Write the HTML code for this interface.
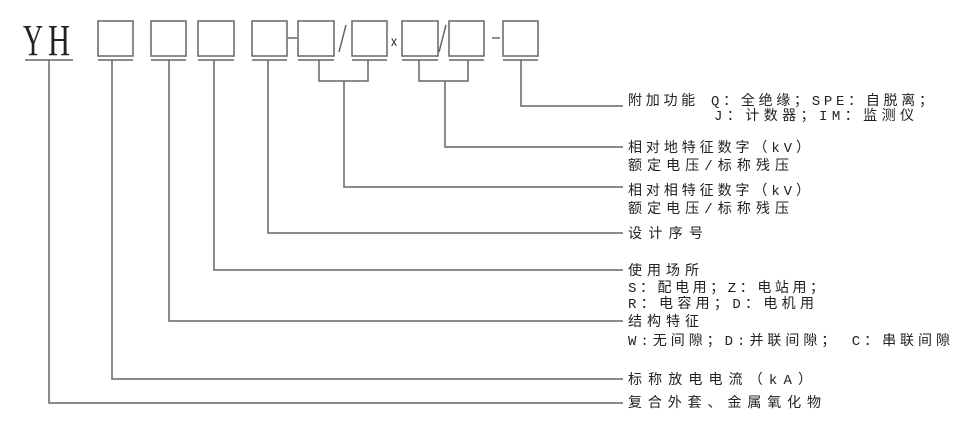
<!DOCTYPE html>
<html><head><meta charset="utf-8"><style>
html,body{margin:0;padding:0;background:#fff;}
svg{display:block;}
text{font-family:"Liberation Mono","Noto Sans CJK SC",monospace;font-size:14px;fill:#222;}
</style></head><body>
<svg width="960" height="426" viewBox="0 0 960 426" xmlns="http://www.w3.org/2000/svg">
<g fill="none" stroke="#666" stroke-width="1.5">
<rect x="98" y="21" width="35" height="35"/>
<rect x="151" y="21" width="35" height="35"/>
<rect x="198" y="21" width="36" height="35"/>
<rect x="252" y="21" width="35" height="35"/>
<rect x="298" y="21" width="36" height="35"/>
<rect x="352" y="21" width="35" height="35"/>
<rect x="402" y="21" width="36" height="35"/>
<rect x="449" y="21" width="35" height="35"/>
<rect x="503" y="21" width="35" height="35"/>
<line x1="288" y1="38" x2="297" y2="38"/>
<line x1="492" y1="38" x2="500" y2="38"/>
<line x1="339" y1="52" x2="346" y2="25"/>
<line x1="439" y1="52" x2="446" y2="25"/>
<line x1="25" y1="60" x2="73" y2="60"/>
<line x1="98" y1="60" x2="133" y2="60"/>
<line x1="151" y1="60" x2="186" y2="60"/>
<line x1="198" y1="60" x2="234" y2="60"/>
<line x1="252" y1="60" x2="287" y2="60"/>
<line x1="298" y1="60" x2="334" y2="60"/>
<line x1="352" y1="60" x2="387" y2="60"/>
<line x1="402" y1="60" x2="438" y2="60"/>
<line x1="449" y1="60" x2="484" y2="60"/>
<line x1="503" y1="60" x2="538" y2="60"/>
<polyline points="319,60 319,81 368,81 368,60"/>
<polyline points="419,60 419,81 468,81 468,60"/>
<polyline points="49,60 49,403 623,403"/>
<polyline points="112,60 112,379 623,379"/>
<polyline points="169,60 169,321 623,321"/>
<polyline points="214,60 214,270 623,270"/>
<polyline points="268,60 268,233 623,233"/>
<polyline points="344,81 344,187 623,187"/>
<polyline points="445,81 445,147 623,147"/>
<polyline points="521,60 521,106 623,106"/>
</g>
<text x="23" y="55" style="font-family:'Liberation Serif',serif;font-size:44px" textLength="20" lengthAdjust="spacingAndGlyphs">Y</text>
<text x="48" y="55" style="font-family:'Liberation Serif',serif;font-size:44px" textLength="22" lengthAdjust="spacingAndGlyphs">H</text>
<text x="391" y="46" style="font-family:'Liberation Sans',sans-serif;font-size:14px" textLength="6" lengthAdjust="spacingAndGlyphs">x</text>
<text x="628" y="105" textLength="305" lengthAdjust="spacing">附加功能 Q：全绝缘；SPE：自脱离；</text>
<text x="714" y="120" textLength="200" lengthAdjust="spacing">J：计数器；IM：监测仪</text>
<text x="628" y="152" textLength="182" lengthAdjust="spacing">相对地特征数字（kV）</text>
<text x="628" y="170" textLength="161" lengthAdjust="spacing">额定电压/标称残压</text>
<text x="628" y="195" textLength="182" lengthAdjust="spacing">相对相特征数字（kV）</text>
<text x="628" y="213" textLength="161" lengthAdjust="spacing">额定电压/标称残压</text>
<text x="628" y="238" textLength="75" lengthAdjust="spacing">设计序号</text>
<text x="628" y="275" textLength="71" lengthAdjust="spacing">使用场所</text>
<text x="628" y="292" textLength="196" lengthAdjust="spacing">S：配电用；Z：电站用；</text>
<text x="628" y="308" textLength="186" lengthAdjust="spacing">R：电容用；D：电机用</text>
<text x="628" y="326" textLength="71" lengthAdjust="spacing">结构特征</text>
<text x="628" y="345" textLength="322" lengthAdjust="spacing">W:无间隙；D:并联间隙； C：串联间隙</text>
<text x="628" y="384" textLength="184" lengthAdjust="spacing">标称放电电流（kA）</text>
<text x="628" y="407" textLength="193" lengthAdjust="spacing">复合外套、金属氧化物</text>
</svg>
</body></html>
